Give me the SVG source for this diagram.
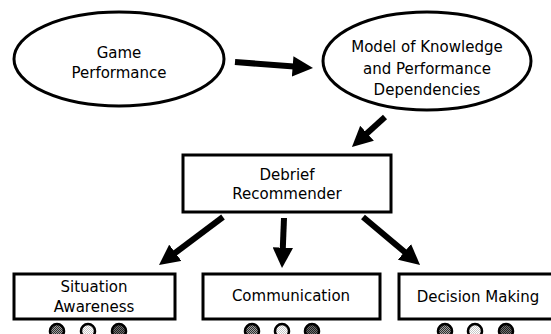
<svg xmlns="http://www.w3.org/2000/svg" width="551" height="334" viewBox="0 0 551 334">
  <style>
    .shape { fill: #ffffff; stroke: #000000; stroke-width: 3; }
    .label { font-family: "DejaVu Sans", Verdana, sans-serif; font-size: 15px; fill: #000000; text-anchor: middle; dominant-baseline: central; }
    .arrow { stroke: #000000; stroke-width: 6; fill: none; marker-end: url(#head); }
    .dot { stroke: #000000; stroke-width: 2.5; }
  </style>
  <defs>
    <marker id="head" viewBox="0 0 10 10" refX="4" refY="5" markerWidth="3.4" markerHeight="3.4" orient="auto">
      <path d="M0,0 L10,5 L0,10 z" fill="#000000"/>
    </marker>
    <!-- dithered fills for the rating dots -->
    <pattern id="ditherMid" width="2" height="2" patternUnits="userSpaceOnUse">
      <rect width="2" height="2" fill="#a0a0a0"/>
      <rect width="1" height="1" fill="#303030"/>
      <rect x="1" y="1" width="1" height="1" fill="#303030"/>
    </pattern>
    <pattern id="ditherLight" width="2" height="2" patternUnits="userSpaceOnUse">
      <rect width="2" height="2" fill="#ffffff"/>
      <rect width="1" height="1" fill="#c8c8c8"/>
      <rect x="1" y="1" width="1" height="1" fill="#c8c8c8"/>
    </pattern>
    <pattern id="ditherDark" width="2" height="2" patternUnits="userSpaceOnUse">
      <rect width="2" height="2" fill="#707070"/>
      <rect width="1" height="1" fill="#202020"/>
      <rect x="1" y="1" width="1" height="1" fill="#202020"/>
    </pattern>
  </defs>

  <rect width="551" height="334" fill="#ffffff"/>

  <g id="game-performance">
    <ellipse class="shape" cx="119" cy="59" rx="105" ry="47"/>
    <text class="label" x="119" y="53">Game</text>
    <text class="label" x="119" y="73">Performance</text>
  </g>

  <g id="knowledge-model">
    <ellipse class="shape" cx="427" cy="61" rx="104" ry="49"/>
    <text class="label" x="427" y="47">Model of Knowledge</text>
    <text class="label" x="427" y="69">and Performance</text>
    <text class="label" x="427" y="90">Dependencies</text>
  </g>

  <g id="debrief-recommender">
    <rect class="shape" x="183" y="155" width="208" height="57"/>
    <text class="label" x="287" y="175">Debrief</text>
    <text class="label" x="287" y="194">Recommender</text>
  </g>

  <g id="situation-awareness">
    <rect class="shape" x="14" y="274" width="161" height="45"/>
    <text class="label" x="94" y="287">Situation</text>
    <text class="label" x="94" y="307">Awareness</text>
    <circle class="dot" cx="57" cy="331" r="7" fill="url(#ditherMid)"/>
    <circle class="dot" cx="88" cy="331" r="7" fill="url(#ditherLight)"/>
    <circle class="dot" cx="119" cy="331" r="7" fill="url(#ditherDark)"/>
  </g>

  <g id="communication">
    <rect class="shape" x="203" y="274" width="177" height="45"/>
    <text class="label" x="291" y="296">Communication</text>
    <circle class="dot" cx="252" cy="331" r="7" fill="url(#ditherMid)"/>
    <circle class="dot" cx="282" cy="331" r="7" fill="url(#ditherLight)"/>
    <circle class="dot" cx="312" cy="331" r="7" fill="url(#ditherDark)"/>
  </g>

  <g id="decision-making">
    <rect class="shape" x="399" y="274" width="160" height="45"/>
    <text class="label" x="478" y="297">Decision Making</text>
    <circle class="dot" cx="445" cy="331" r="7" fill="url(#ditherMid)"/>
    <circle class="dot" cx="475" cy="331" r="7" fill="url(#ditherLight)"/>
    <circle class="dot" cx="506" cy="331" r="7" fill="url(#ditherDark)"/>
  </g>

  <g id="connectors">
    <line class="arrow" x1="235" y1="62" x2="300.8" y2="67.1"/>
    <line class="arrow" x1="385" y1="117" x2="361" y2="138.8"/>
    <line class="arrow" x1="223" y1="217" x2="168.8" y2="257.7"/>
    <line class="arrow" x1="284" y1="218" x2="282.5" y2="255.8"/>
    <line class="arrow" x1="363" y1="217" x2="410.7" y2="257.1"/>
  </g>
</svg>
